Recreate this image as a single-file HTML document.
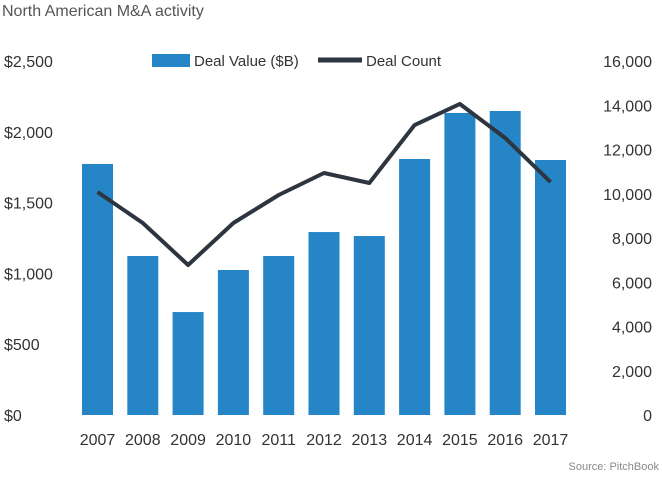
<!DOCTYPE html>
<html><head><meta charset="utf-8">
<style>
html,body{margin:0;padding:0;background:#fff;}
svg{display:block;font-family:"Liberation Sans",sans-serif;}
</style></head>
<body>
<svg id="chart" width="662" height="478">
<text x="2" y="16" font-size="16" fill="#555">North American M&amp;A activity</text>
<g id="axes"></g><g id="bars"></g><g id="line"></g>
<g>
<rect x="152" y="54" width="38" height="13" fill="#2585c6"/>
<text x="194" y="66" font-size="15" fill="#333">Deal Value ($B)</text>
<line x1="318" y1="60" x2="362" y2="60" stroke="#2d3640" stroke-width="5"/>
<text x="366" y="66" font-size="15" fill="#333">Deal Count</text>
</g>
<text x="659" y="470" font-size="11" fill="#888" text-anchor="end">Source: PitchBook</text>
</svg>
<script>
const years=["2007","2008","2009","2010","2011","2012","2013","2014","2015","2016","2017"];
const dealValues=[1773,1123,727,1024,1123,1292,1264,1808,2133,2147,1801];
const dealCounts=[10079,8678,6780,8678,9944,10938,10486,13107,14057,12520,10531];
const leftTicks=[0,500,1000,1500,2000,2500];
const leftTickLabels=["$0","$500","$1,000","$1,500","$2,000","$2,500"];
const rightTicks=[0,2000,4000,6000,8000,10000,12000,14000,16000];
const rightTickLabels=["0","2,000","4,000","6,000","8,000","10,000","12,000","14,000","16,000"];
const NS="http://www.w3.org/2000/svg";
const y0=415,y1=61;
const yL=v=>y0-(v/2500)*(y0-y1);
const yR=v=>y0-(v/16000)*(y0-y1);
const xC=i=>97.5+i*45.3;
function mk(t,a,p){const e=document.createElementNS(NS,t);for(const k in a)e.setAttribute(k,a[k]);p.appendChild(e);return e;}
const ax=document.getElementById('axes'),bg=document.getElementById('bars'),lg=document.getElementById('line');
leftTicks.forEach((v,i)=>{const t=mk('text',{x:4,y:yL(v)+6,'font-size':16,fill:'#333'},ax);t.textContent=leftTickLabels[i];

});
rightTicks.forEach((v,i)=>{const t=mk('text',{x:652,y:yR(v)+6,'font-size':16,fill:'#333','text-anchor':'end'},ax);t.textContent=rightTickLabels[i];

});
years.forEach((yr,i)=>{const t=mk('text',{x:xC(i),y:445,'font-size':16,fill:'#333','text-anchor':'middle'},ax);t.textContent=yr;

});
dealValues.forEach((v,i)=>{const r=mk('rect',{x:xC(i)-15.5,y:yL(v),width:31,height:y0-yL(v),fill:'#2585c6'},bg);

});
const pl=mk('polyline',{points:dealCounts.map((v,i)=>xC(i)+','+yR(v)).join(' '),fill:'none',stroke:'#2d3640','stroke-width':4,'stroke-linejoin':'round'},lg);


</script>
</body></html>
